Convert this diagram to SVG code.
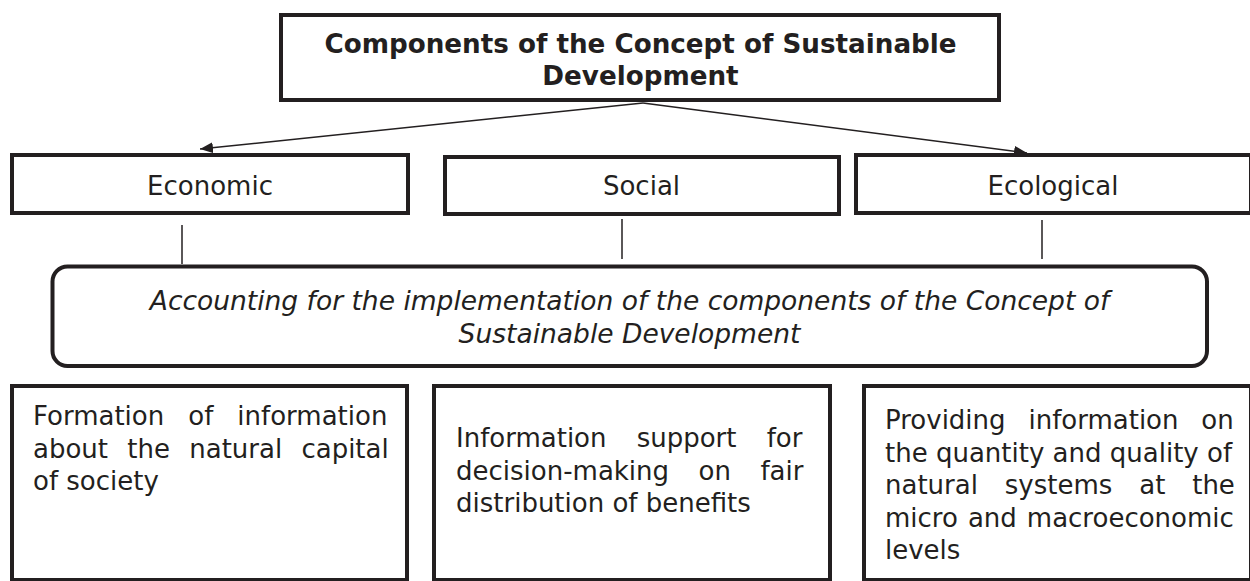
<svg xmlns="http://www.w3.org/2000/svg" width="1250" height="581" viewBox="0 0 1250 581">
  <style>
    .box { fill: #ffffff; stroke: #231f20; stroke-width: 4; }
    .txt { font-family: "DejaVu Sans", Verdana, sans-serif; font-size: 26px; fill: #231f20; }
    .ttl { font-weight: bold; font-size: 26.2px; text-anchor: middle; }
    .mid { text-anchor: middle; }
    .it { font-style: italic; font-size: 26.5px; text-anchor: middle; }
    .wire { stroke: #231f20; stroke-width: 1.5; fill: none; }
  </style>
  <defs>
    <marker id="arrow" markerUnits="userSpaceOnUse" markerWidth="13" markerHeight="11" refX="13" refY="5.5" orient="auto">
      <path d="M0,0 L13,5.5 L0,11 z" fill="#231f20"/>
    </marker>
  </defs>
  <rect width="1250" height="581" fill="#ffffff"/>

  <!-- connectors -->
  <g id="connectors">
    <line class="wire" x1="643" y1="103" x2="200" y2="149" marker-end="url(#arrow)"/>
    <line class="wire" x1="643" y1="103" x2="1027" y2="153" marker-end="url(#arrow)"/>
    <line class="wire" x1="182" y1="225" x2="182" y2="264"/>
    <line class="wire" x1="622" y1="219" x2="622" y2="259"/>
    <line class="wire" x1="1042" y1="220" x2="1042" y2="259"/>
  </g>

  <!-- title -->
  <g id="title">
    <rect class="box" x="281" y="15" width="718" height="85"/>
    <text class="txt ttl" x="640.5" y="53">Components of the Concept of Sustainable</text>
    <text class="txt ttl" x="640.5" y="85">Development</text>
  </g>

  <!-- three components -->
  <g id="economic">
    <rect class="box" x="12" y="155" width="396" height="58"/>
    <text class="txt mid" x="210" y="195">Economic</text>
  </g>
  <g id="social">
    <rect class="box" x="445" y="157" width="394" height="57"/>
    <text class="txt mid" x="641.5" y="195">Social</text>
  </g>
  <g id="ecological">
    <rect class="box" x="856" y="155" width="395" height="58"/>
    <text class="txt mid" x="1053" y="195">Ecological</text>
  </g>

  <!-- accounting -->
  <g id="accounting">
    <rect class="box" x="52.5" y="266.5" width="1154.5" height="99.5" rx="15" ry="15"/>
    <text class="txt it" x="629.5" y="310">Accounting for the implementation of the components of the Concept of</text>
    <text class="txt it" x="629.5" y="343">Sustainable Development</text>
  </g>

  <!-- information tasks -->
  <g id="natural-capital">
    <rect class="box" x="12" y="386" width="395" height="194"/>
    <text class="txt" x="33" y="425" word-spacing="15.75">Formation of information</text>
    <text class="txt" x="33" y="457.5" word-spacing="11">about the natural capital</text>
    <text class="txt" x="33" y="490">of society</text>
  </g>
  <g id="fair-distribution">
    <rect class="box" x="434" y="386" width="396" height="194"/>
    <text class="txt" x="456" y="447" word-spacing="21.9">Information support for</text>
    <text class="txt" x="456" y="479.5" word-spacing="21.2">decision-making on fair</text>
    <text class="txt" x="456" y="512">distribution of benefits</text>
  </g>
  <g id="natural-systems">
    <rect class="box" x="864" y="386" width="387" height="194"/>
    <text class="txt" x="885" y="429" word-spacing="14.6">Providing information on</text>
    <text class="txt" x="885" y="461.5">the quantity and quality of</text>
    <text class="txt" x="885" y="494" word-spacing="18.6">natural systems at the</text>
    <text class="txt" x="885" y="526.5" word-spacing="1.75">micro and macroeconomic</text>
    <text class="txt" x="885" y="559">levels</text>
  </g>
</svg>
